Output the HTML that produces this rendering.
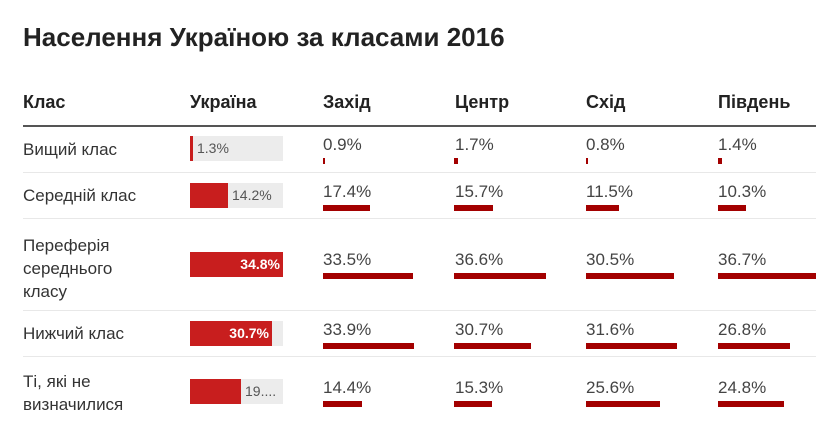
<!DOCTYPE html>
<html><head><meta charset="utf-8"><style>
body{margin:0;width:837px;height:444px;background:#fff;font-family:"Liberation Sans",Arial,sans-serif;color:#333;position:relative;overflow:hidden}
.a{position:absolute;white-space:nowrap}
.t{font-size:26px;font-weight:bold;color:#222;left:23px;top:22px}
.h{font-size:18px;font-weight:bold;color:#222;top:92px}
.l{font-size:17px;left:23px;line-height:23px;color:#333}
.v{font-size:17px;color:#444}
.sep{position:absolute;left:23px;width:793px;height:1px;background:#e8e8e8}
.bg{position:absolute;left:190px;width:93px;height:25px;background:#ececec}
.f{position:absolute;left:0;top:0;height:25px;background:#c81e1e}
.il{position:absolute;right:3px;top:4px;font-size:14px;font-weight:bold;color:#fff}
.ol{position:absolute;top:4px;font-size:14px;color:#555}
.b{position:absolute;height:6px;background:#a30000}
</style></head><body>
<div class="a t">Населення Україною за класами 2016</div>
<div class="a h" style="left:23px">Клас</div>
<div class="a h" style="left:190px">Україна</div>
<div class="a h" style="left:323px">Захід</div>
<div class="a h" style="left:455px">Центр</div>
<div class="a h" style="left:586px">Схід</div>
<div class="a h" style="left:718px">Південь</div>
<div class="sep" style="top:125px;height:2px;background:#555"></div>
<div class="sep" style="top:172px"></div>
<div class="sep" style="top:218px"></div>
<div class="sep" style="top:310px"></div>
<div class="sep" style="top:356px"></div>

<div class="a l" style="top:138px">Вищий клас</div>
<div class="a l" style="top:184px">Середній клас</div>
<div class="a l" style="top:234px">Переферія<br>середнього<br>класу</div>
<div class="a l" style="top:322px">Нижчий клас</div>
<div class="a l" style="top:370px">Ті, які не<br>визначилися</div>

<div class="bg" style="top:136px"><div class="f" style="width:3px"></div><div class="ol" style="left:7px">1.3%</div></div>
<div class="bg" style="top:183px"><div class="f" style="width:38px"></div><div class="ol" style="left:42px">14.2%</div></div>
<div class="bg" style="top:252px"><div class="f" style="width:93px"></div><div class="il">34.8%</div></div>
<div class="bg" style="top:321px"><div class="f" style="width:82px"></div><div class="il" style="right:14px">30.7%</div></div>
<div class="bg" style="top:379px"><div class="f" style="width:51px"></div><div class="ol" style="left:55px">19....</div></div>

<!-- values -->
<div class="a v" style="left:323px;top:135px">0.9%</div><div class="b" style="left:323px;top:158px;width:2px"></div>
<div class="a v" style="left:455px;top:135px">1.7%</div><div class="b" style="left:454px;top:158px;width:4px"></div>
<div class="a v" style="left:586px;top:135px">0.8%</div><div class="b" style="left:586px;top:158px;width:2px"></div>
<div class="a v" style="left:718px;top:135px">1.4%</div><div class="b" style="left:718px;top:158px;width:4px"></div>

<div class="a v" style="left:323px;top:182px">17.4%</div><div class="b" style="left:323px;top:205px;width:47px"></div>
<div class="a v" style="left:455px;top:182px">15.7%</div><div class="b" style="left:454px;top:205px;width:39px"></div>
<div class="a v" style="left:586px;top:182px">11.5%</div><div class="b" style="left:586px;top:205px;width:33px"></div>
<div class="a v" style="left:718px;top:182px">10.3%</div><div class="b" style="left:718px;top:205px;width:28px"></div>

<div class="a v" style="left:323px;top:250px">33.5%</div><div class="b" style="left:323px;top:273px;width:90px"></div>
<div class="a v" style="left:455px;top:250px">36.6%</div><div class="b" style="left:454px;top:273px;width:92px"></div>
<div class="a v" style="left:586px;top:250px">30.5%</div><div class="b" style="left:586px;top:273px;width:88px"></div>
<div class="a v" style="left:718px;top:250px">36.7%</div><div class="b" style="left:718px;top:273px;width:98px"></div>

<div class="a v" style="left:323px;top:320px">33.9%</div><div class="b" style="left:323px;top:343px;width:91px"></div>
<div class="a v" style="left:455px;top:320px">30.7%</div><div class="b" style="left:454px;top:343px;width:77px"></div>
<div class="a v" style="left:586px;top:320px">31.6%</div><div class="b" style="left:586px;top:343px;width:91px"></div>
<div class="a v" style="left:718px;top:320px">26.8%</div><div class="b" style="left:718px;top:343px;width:72px"></div>

<div class="a v" style="left:323px;top:378px">14.4%</div><div class="b" style="left:323px;top:401px;width:39px"></div>
<div class="a v" style="left:455px;top:378px">15.3%</div><div class="b" style="left:454px;top:401px;width:38px"></div>
<div class="a v" style="left:586px;top:378px">25.6%</div><div class="b" style="left:586px;top:401px;width:74px"></div>
<div class="a v" style="left:718px;top:378px">24.8%</div><div class="b" style="left:718px;top:401px;width:66px"></div>
</body></html>
